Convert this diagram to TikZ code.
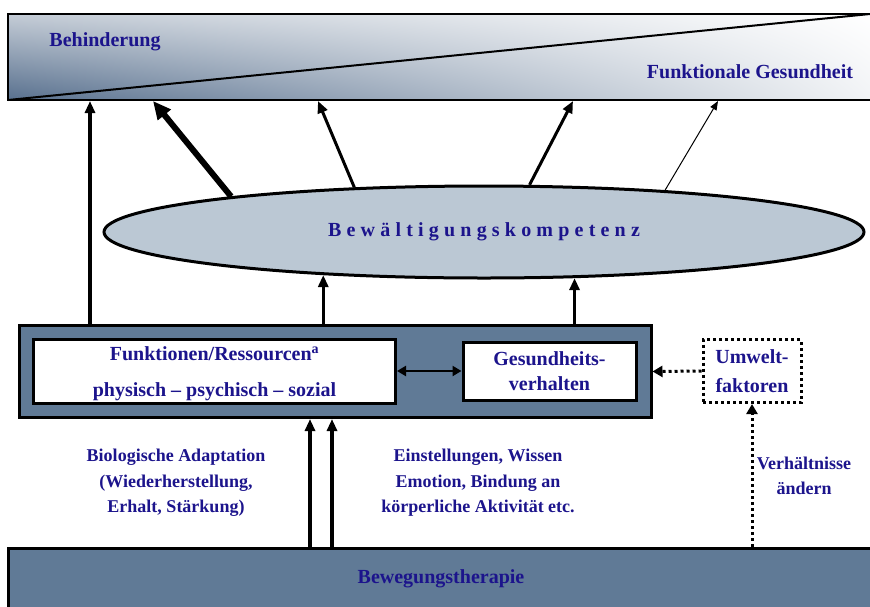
\documentclass[tikz,border=0pt]{standalone}
\usepackage{fontspec}
\setmainfont{Liberation Serif}
\definecolor{labelnavy}{RGB}{28,20,140}
\definecolor{therapyblue}{RGB}{96,122,150}
\definecolor{copeblue}{RGB}{187,200,212}
\definecolor{shadedark}{RGB}{88,112,142}
\definecolor{shademid}{RGB}{196,204,214}
\usetikzlibrary{arrows.meta,shapes.geometric,shadings,positioning}

\begin{document}
\begin{tikzpicture}[
    x=1pt, y=-1pt,
    biglabel/.style={text=labelnavy, font=\bfseries\fontsize{20}{25}\selectfont, align=center},
    smalllabel/.style={text=labelnavy, font=\bfseries\fontsize{18}{25.5}\selectfont, align=center},
    panel/.style={rectangle, draw, line width=3pt, fill=therapyblue, inner sep=0pt},
    innerbox/.style={rectangle, draw, line width=3pt, fill=white, inner sep=0pt, biglabel},
    dottedbox/.style={rectangle, draw, line width=3pt, dash pattern=on 3pt off 3pt, inner sep=0pt, biglabel},
    arrow/.style={-{Triangle[length=12pt,width=10pt]}, line width=3pt},
    dottedarrow/.style={-{Triangle[length=10pt,width=11pt]}, line width=3pt, dash pattern=on 3pt off 3pt}
]
\useasboundingbox (0,0) rectangle (870,606);

% top bar
\shade[lower left=shadedark, upper left=shademid, upper right=white, lower right=white!92!shadedark]
    (8,14) rectangle (870,100);
\draw[line width=2pt] (872,14) -- (8,14) -- (8,100) -- (872,100);
\draw[line width=2pt] (8,100) -- (870,14);
\node[biglabel] (disability) at (105,42) {Behinderung};
\node[biglabel] (health) at (750,72) {Funktionale Gesundheit};

% coping
\node[ellipse, draw, line width=3pt, fill=copeblue, minimum width=760pt, minimum height=92pt, inner sep=0pt,
    text=labelnavy, font=\bfseries\fontsize{20}{22}\selectfont\addfontfeatures{LetterSpace=26}]
    (coping) at (484,232) {Bewältigungskompetenz};

% resources
\node[panel, minimum width=632pt, minimum height=92pt] (resources) at (335,371.5) {};
\node[innerbox, minimum width=362pt, minimum height=64pt] (functions) at (214.5,371)
    {\rule{0pt}{20pt}Funktionen/Ressourcen\textsuperscript{a}\\[11pt]physisch -- psychisch -- sozial};
\node[innerbox, minimum width=173pt, minimum height=58pt] (behaviour) at (549.5,371)
    {Gesundheits-\\verhalten};
\node[dottedbox, minimum width=98pt, minimum height=63pt] (environment) at (752,371)
    {Umwelt-\\[4pt]faktoren};

% therapy
\node[panel, minimum width=866pt, minimum height=62pt, biglabel] (therapy) at (441,579) {Bewegungstherapie};

\node[smalllabel] (adaptation) at (176,483) {Biologische Adaptation\\(Wiederherstellung,\\Erhalt, Stärkung)};
\node[smalllabel] (attitudes) at (478,483) {Einstellungen, Wissen\\Emotion, Bindung an\\körperliche Aktivität etc.};
\node[smalllabel] (conditions) at (804,476) {Verhältnisse\\ändern};

\coordinate (b0) at (90,101);
\coordinate (b1) at (153,101);
\coordinate (b2) at (318,101);
\coordinate (b3) at (573,101);
\coordinate (b4) at (718,101);
\coordinate (e1) at (coping.195.6);
\coordinate (e2) at (coping.333.3);
\coordinate (a1) at (310,0);
\coordinate (a2) at (332,0);

\draw[arrow, line width=3.5pt] (resources.north -| b0) -- (b0);
\draw[arrow, line width=6pt, -{Triangle[length=18pt,width=16pt]}] (coping.172.4) -- (b1);
\draw[arrow] (coping.161.9) -- (b2);
\draw[arrow] (coping.46.7) -- (b3);
\draw[arrow, line width=1pt, -{Triangle[length=9pt,width=7pt]}] (coping.13) -- (b4);

\draw[arrow, line width=3.5pt] (resources.north -| e1) -- (e1);
\draw[arrow, line width=3.5pt] (resources.north -| e2) -- (e2);

\draw[{Triangle[length=9pt,width=10pt]}-{Triangle[length=9pt,width=10pt]}, line width=2.5pt]
    (functions.east) -- (behaviour.west);
\draw[dottedarrow] (environment.west) -- (resources.east);
\draw[dottedarrow] (therapy.north -| environment.south) -- (environment.south);

\draw[arrow, line width=4.5pt] (therapy.north -| a1) -- (resources.south -| a1);
\draw[arrow, line width=4.5pt] (therapy.north -| a2) -- (resources.south -| a2);

\end{tikzpicture}
\end{document}
